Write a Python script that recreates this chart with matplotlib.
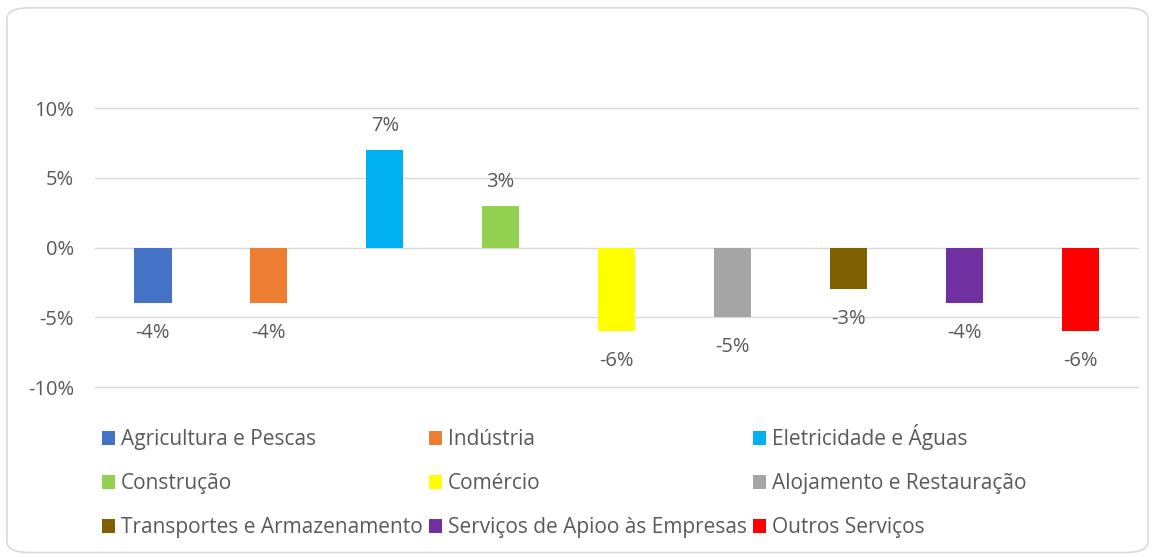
import matplotlib
matplotlib.use("Agg")
import matplotlib.pyplot as plt
from matplotlib.patches import FancyBboxPatch, Patch

categories = ["Agricultura e Pescas", "Indústria", "Eletricidade e Águas",
              "Construção", "Comércio", "Alojamento e Restauração",
              "Transportes e Armazenamento", "Serviços de Apioo às Empresas",
              "Outros Serviços"]
values = [-4, -4, 7, 3, -6, -5, -3, -4, -6]
colors = ["#4472C4", "#ED7D31", "#00B0F0", "#92D050", "#FFFF00",
          "#A5A5A5", "#7F6000", "#7030A0", "#FF0000"]
yticks = [-10, -5, 0, 5, 10]

TXT = "#595959"
FS = 14.5
plt.rcParams['font.family'] = ['Open Sans', 'DejaVu Sans']

fig = plt.figure(figsize=(11.55, 5.57), dpi=100)
border = FancyBboxPatch((0.006, 0.008), 0.988, 0.978,
                        boxstyle="round,pad=0,rounding_size=0.02",
                        transform=fig.transFigure, facecolor="white",
                        edgecolor="#D9D9D9", linewidth=1.2, zorder=-10)
fig.patches.append(border)

ax = fig.add_axes([0.0823, 0.305, 0.903, 0.501])
x = list(range(len(values)))
ax.bar(x, values, width=0.32, color=colors, zorder=3)
ax.set_xlim(-0.5, len(values) - 0.5)
ax.set_ylim(-10, 10)
ax.set_yticks(yticks)
ax.set_yticklabels([f"{v}%" for v in yticks], fontsize=FS, color=TXT)
ax.tick_params(axis='y', length=0, pad=15)
ax.set_xticks([])
ax.grid(axis='y', color="#D9D9D9", linewidth=1, zorder=0)
for gl in ax.get_ygridlines():
    gl.set_clip_on(False)
for s in ax.spines.values():
    s.set_visible(False)
ax.patch.set_alpha(0)

for xi, v in zip(x, values):
    if v >= 0:
        ax.annotate(f"{v}%", (xi, v), xytext=(0, 10), textcoords="offset points",
                    ha="center", va="bottom", fontsize=FS, color=TXT)
    else:
        ax.annotate(f"{v}%", (xi, v), xytext=(0, -14), textcoords="offset points",
                    ha="center", va="top", fontsize=FS, color=TXT)

handles = [Patch(facecolor=c, edgecolor='none') for c in colors]
order = [0, 3, 6, 1, 4, 7, 2, 5, 8]
leg = fig.legend([handles[i] for i in order], [categories[i] for i in order],
                 ncol=3, loc="upper left", bbox_to_anchor=(0.088, 0.238),
                 frameon=False, fontsize=15, labelcolor=TXT,
                 handlelength=0.62, handleheight=0.62, handletextpad=0.3,
                 columnspacing=0.3, labelspacing=1.1, borderpad=0, borderaxespad=0)

fig.savefig("out.png", dpi=100)
